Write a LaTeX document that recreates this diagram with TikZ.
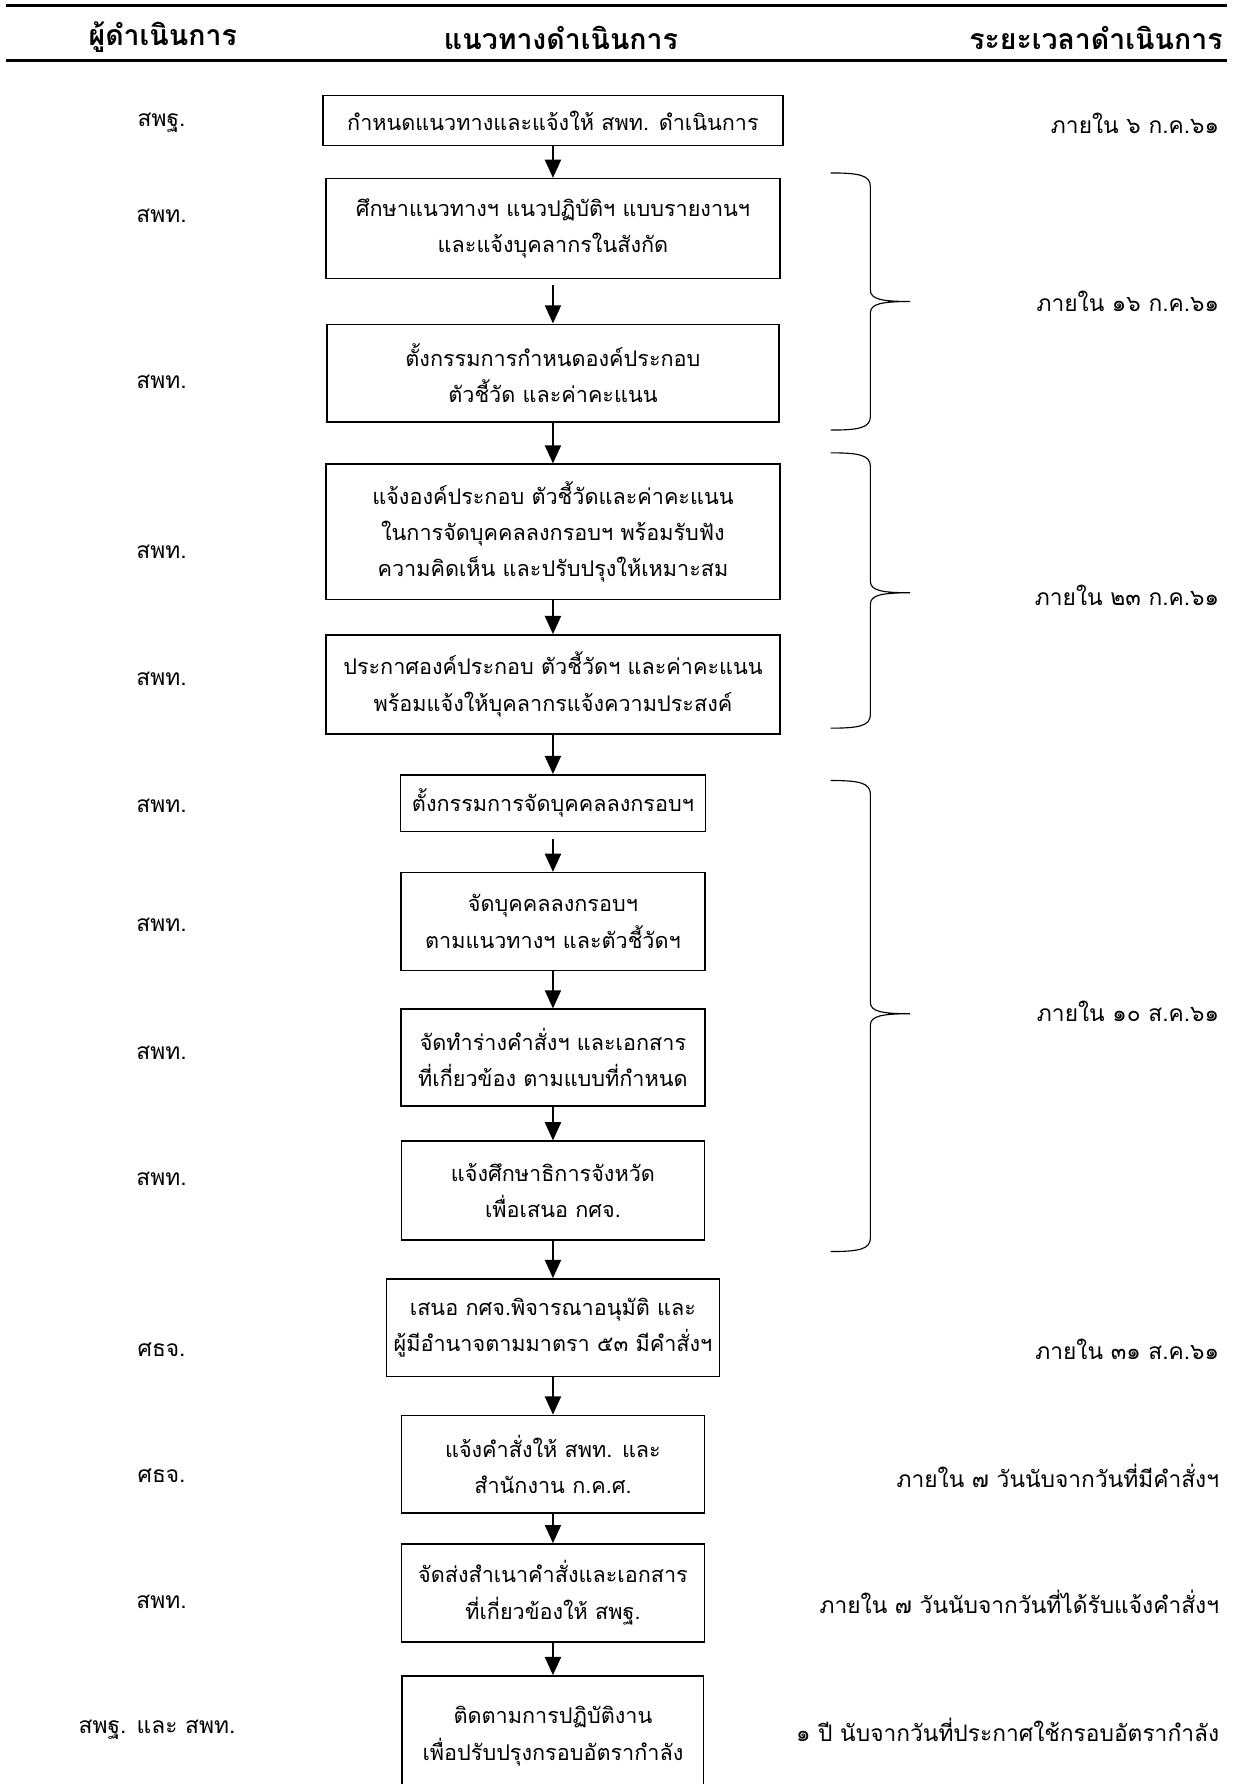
\documentclass[tikz,border=0pt]{standalone}
\usepackage{fontspec}
\setmainfont[Script=Thai]{Loma}
\newfontfamily\headfont[Script=Thai]{Loma}
\usetikzlibrary{arrows.meta}
\newcommand\drawbrace[4]{% name, top, tip, bottom
  \draw[brace] (730,#2) .. controls (755,#2) and (765,#2+2) .. (765,#2+12)
    -- (765,#3-10) .. controls (765,#3-2) and (775,#3) .. (800,#3)
    .. controls (775,#3) and (765,#3+2) .. (765,#3+10)
    -- (765,#4-12) .. controls (765,#4-2) and (755,#4) .. (730,#4);
  \coordinate (#1) at (800,#3);}
\begin{document}
\begin{tikzpicture}[x=1pt,y=-1pt,
  box/.style={draw, line width=1.3pt, align=center, inner sep=0pt, font=\fontsize{19}{32}\selectfont},
  lab/.style={font=\fontsize{20}{24}\selectfont},
  head/.style={font=\headfont\bfseries\fontsize{25}{28}\selectfont},
  arr/.style={line width=2pt, -{Triangle[width=14pt,length=16pt]}},
  brace/.style={line width=1pt},
  rule/.style={line width=2.5pt}]
\useasboundingbox (0,0) rectangle (1085,1568);
% header
\coordinate (hl1) at (5,5); \coordinate (hr1) at (1078,5);
\coordinate (hl2) at (5,53); \coordinate (hr2) at (1078,53);
\draw[rule] (hl1) -- (hr1);
\draw[rule] (hl2) -- (hr2);
\node[head] (h1) at (143,33) {ผู้ดำเนินการ};
\node[head] (h2) at (493,33) {แนวทางดำเนินการ};
\node[head, anchor=east] (h3) at (1078,33) {ระยะเวลาดำเนินการ};
% boxes
\node[box, minimum width=404pt, minimum height=44pt] (b1) at (486,106) {กำหนดแนวทางและแจ้งให้ สพท. ดำเนินการ};
\node[box, minimum width=399pt, minimum height=88pt] (b2) at (486,201) {ศึกษาแนวทางฯ แนวปฏิบัติฯ แบบรายงานฯ\\และแจ้งบุคลากรในสังกัด};
\node[box, minimum width=397pt, minimum height=86pt] (b3) at (486,328) {ตั้งกรรมการกำหนดองค์ประกอบ\\ตัวชี้วัด และค่าคะแนน};
\node[box, minimum width=399pt, minimum height=119pt] (b4) at (486,467.5) {แจ้งองค์ประกอบ ตัวชี้วัดและค่าคะแนน\\ในการจัดบุคคลลงกรอบฯ พร้อมรับฟัง\\ความคิดเห็น และปรับปรุงให้เหมาะสม};
\node[box, minimum width=399pt, minimum height=87pt] (b5) at (486,601.5) {ประกาศองค์ประกอบ ตัวชี้วัดฯ และค่าคะแนน\\พร้อมแจ้งให้บุคลากรแจ้งความประสงค์};
\node[box, minimum width=268pt, minimum height=50pt] (b6) at (486,706) {ตั้งกรรมการจัดบุคคลลงกรอบฯ};
\node[box, minimum width=267pt, minimum height=86pt] (b7) at (486,810) {จัดบุคคลลงกรอบฯ\\ตามแนวทางฯ และตัวชี้วัดฯ};
\node[box, minimum width=267pt, minimum height=85pt] (b8) at (486,929.5) {จัดทำร่างคำสั่งฯ และเอกสาร\\ที่เกี่ยวข้อง ตามแบบที่กำหนด};
\node[box, minimum width=266pt, minimum height=87pt] (b9) at (486,1046.5) {แจ้งศึกษาธิการจังหวัด\\เพื่อเสนอ กศจ.};
\node[box, minimum width=293pt, minimum height=86pt] (b10) at (486,1167) {เสนอ กศจ.พิจารณาอนุมัติ และ\\ผู้มีอำนาจตามมาตรา ๕๓ มีคำสั่งฯ};
\node[box, minimum width=266pt, minimum height=86pt] (b11) at (486,1287) {แจ้งคำสั่งให้ สพท. และ\\สำนักงาน ก.ค.ศ.};
\node[box, minimum width=266pt, minimum height=86pt] (b12) at (486,1400) {จัดส่งสำเนาคำสั่งและเอกสาร\\ที่เกี่ยวข้องให้ สพฐ.};
\node[box, minimum width=265pt, minimum height=106pt] (b13) at (486,1526) {ติดตามการปฏิบัติงาน\\เพื่อปรับปรุงกรอบอัตรากำลัง};
% arrows
\draw[arr] (b1.south) -- (b2.north);
\draw[arr] ([yshift=-5pt]b2.south) -- (b3.north);
\draw[arr] (b3.south) -- (b4.north);
\draw[arr] (b4.south) -- (b5.north);
\draw[arr] (b5.south) -- (b6.north);
\draw[arr] ([yshift=-6pt]b6.south) -- (b7.north);
\draw[arr] (b7.south) -- (b8.north);
\draw[arr] (b8.south) -- (b9.north);
\draw[arr] (b9.south) -- (b10.north);
\draw[arr] (b10.south) -- (b11.north);
\draw[arr] (b11.south) -- (b12.north);
\draw[arr] (b12.south) -- (b13.north);
% left labels
\node[lab] (l1) at (142,108) {สพฐ.};
\node[lab] (l2) at (142,190) {สพท.};
\node[lab] (l3) at (142,336) {สพท.};
\node[lab] (l4) at (142,485) {สพท.};
\node[lab] (l5) at (142,597) {สพท.};
\node[lab] (l6) at (142,708) {สพท.};
\node[lab] (l7) at (142,813) {สพท.};
\node[lab] (l8) at (142,925) {สพท.};
\node[lab] (l9) at (142,1036) {สพท.};
\node[lab] (l10) at (142,1186) {ศธจ.};
\node[lab] (l11) at (142,1297) {ศธจ.};
\node[lab] (l12) at (142,1408) {สพท.};
\node[lab] (l13) at (138,1520) {สพฐ. และ สพท.};
% braces
\drawbrace{br1}{152}{265}{378}
\drawbrace{br2}{398}{521}{640}
\drawbrace{br3}{686}{891}{1100}
% right labels
\node[lab, anchor=east] (r1) at (1075,108) {ภายใน ๖ ก.ค.๖๑};
\node[lab, anchor=east] (r2) at (1075,265) {ภายใน ๑๖ ก.ค.๖๑};
\node[lab, anchor=east] (r3) at (1075,523) {ภายใน ๒๓ ก.ค.๖๑};
\node[lab, anchor=east] (r4) at (1075,889) {ภายใน ๑๐ ส.ค.๖๑};
\node[lab, anchor=east] (r5) at (1075,1186) {ภายใน ๓๑ ส.ค.๖๑};
\node[lab, anchor=east] (r6) at (1075,1297) {ภายใน ๗ วันนับจากวันที่มีคำสั่งฯ};
\node[lab, anchor=east] (r7) at (1075,1408) {ภายใน ๗ วันนับจากวันที่ได้รับแจ้งคำสั่งฯ};
\node[lab, anchor=east] (r8) at (1075,1520) {๑ ปี นับจากวันที่ประกาศใช้กรอบอัตรากำลัง};
\end{tikzpicture}
\end{document}
